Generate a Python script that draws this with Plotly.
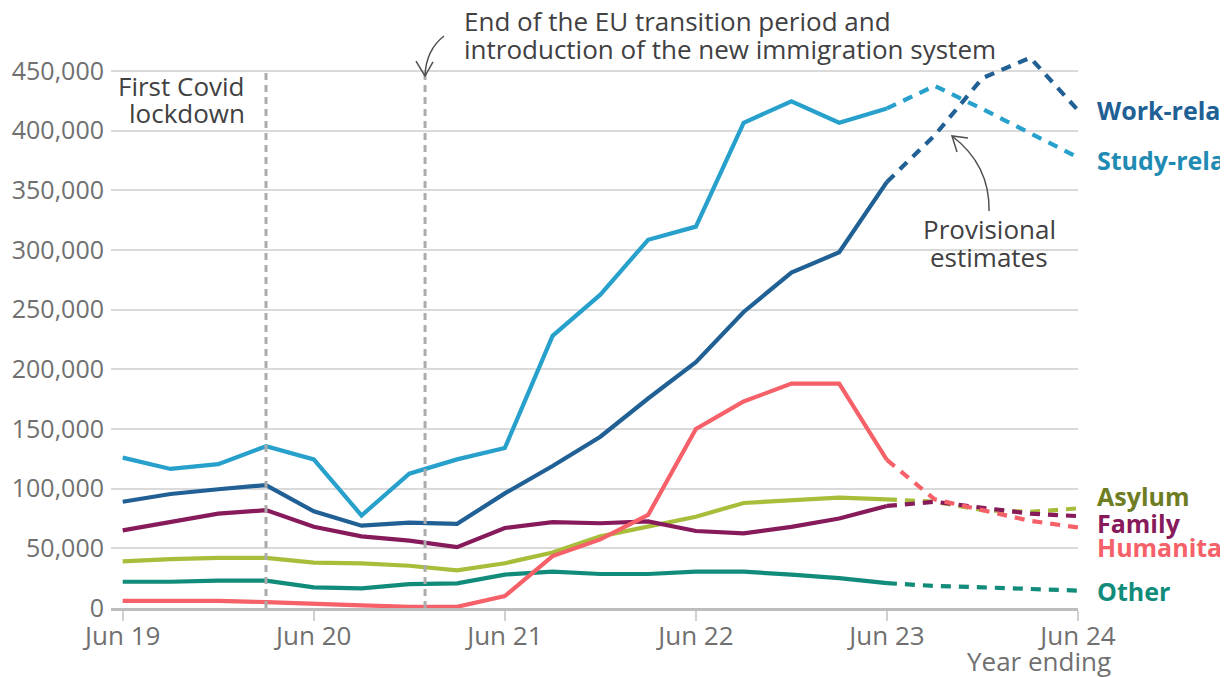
import plotly.graph_objects as go

quarters = ["Jun 19", "Sep 19", "Dec 19", "Mar 20", "Jun 20", "Sep 20", "Dec 20", "Mar 21",
            "Jun 21", "Sep 21", "Dec 21", "Mar 22", "Jun 22", "Sep 22", "Dec 22", "Mar 23",
            "Jun 23", "Sep 23", "Dec 23", "Mar 24", "Jun 24"]
tick_labels = ["Jun 19", "Jun 20", "Jun 21", "Jun 22", "Jun 23", "Jun 24"]

work = [89000, 95500, 99500, 103000, 81000, 69000, 71500, 70500, 96000, 119000, 143500,
        175500, 206000, 248000, 281000, 298000, 357000, 396000, 444000, 461000, 417000]
study = [126000, 116500, 120500, 135500, 124500, 77500, 112500, 124500, 134000, 228000, 262500,
         308500, 319500, 406500, 424500, 406500, 418500, 437500, 418000, 398000, 377500]
humanitarian = [6000, 6000, 6000, 5000, 4000, 2200, 1000, 1000, 10000, 43500, 57500,
                78000, 150000, 173000, 188000, 188000, 124000, 91000, 82000, 73000, 67500]
family = [65000, 72000, 79000, 82000, 68000, 60000, 56500, 51000, 67000, 72000, 71000,
          72500, 64500, 62500, 68000, 75000, 85500, 89000, 84000, 79000, 77000]
asylum = [39000, 41000, 42000, 42000, 38000, 37400, 35400, 31500, 37500, 46500, 60000,
          68000, 76500, 88000, 90500, 92500, 91000, 89000, 82000, 80500, 83500]
other = [22000, 22000, 23000, 23000, 17300, 16500, 20000, 20600, 28000, 30400, 28500,
         28500, 30400, 30400, 28000, 25000, 20800, 18500, 17300, 15600, 14600]

series_names = ["Other", "Asylum", "Family", "Humanitarian", "Study-related", "Work-related"]
series_values = [other, asylum, family, humanitarian, study, work]
line_colors = ["#118C7B", "#A8BD3A", "#871A5B", "#F66068", "#27A0CC", "#206095"]
label_colors = ["#118C7B", "#6E7D22", "#871A5B", "#F66068", "#1F8BB3", "#206095"]
label_y = [14000, 93500, 71000, 51000, 375000, 417000]

last_actual = quarters.index("Jun 23")
xs = list(range(len(quarters)))

# page has an 8px body margin
W, H = 1220, 669
L, R, T, B = 103, 150, 39, 69
XMIN, XMAX = -0.245, 20
YMIN, YMAX = 0, 470000

fig = go.Figure()
for name, vals, col in zip(series_names, series_values, line_colors):
    fig.add_trace(go.Scatter(x=xs[:last_actual + 1], y=vals[:last_actual + 1], mode="lines",
                             line=dict(color=col, width=4.2), name=name, hoverinfo="skip",
                             showlegend=False))
    fig.add_trace(go.Scatter(x=xs[last_actual:], y=vals[last_actual:], mode="lines",
                             line=dict(color=col, width=4.2, dash="10px,8px"),
                             name=name + " (provisional)", hoverinfo="skip", showlegend=False))

annotations = []
for name, col, ly in zip(series_names, label_colors, label_y):
    annotations.append(dict(x=xs[-1], y=ly, xref="x", yref="y", text="<b>" + name + "</b>",
                            showarrow=False, xanchor="left", yanchor="middle", xshift=17,
                            font=dict(family="Open Sans", size=25, color=col)))

# event reference lines
lockdown_x = quarters.index("Mar 20")
eu_x = quarters.index("Dec 20") + 0.33
shapes = []
for vx in [lockdown_x, eu_x]:
    shapes.append(dict(type="line", xref="x", yref="y", x0=vx, x1=vx, y0=0, y1=450000,
                       line=dict(color="#ABABAB", width=3, dash="7px,5px"), layer="above"))

# helper: screenshot pixel -> paper coords for decorations
PL, PT = L + 8, T + 8
pw, ph = W - L - R, H - T - B
PB = PT + ph
def PX(px):
    return (px - PL) / pw
def PY(py):
    return (PB - py) / ph
def P(px, py):
    return "%.4f,%.4f" % (PX(px), PY(py))

arrow_col = "#505050"
shapes.append(dict(type="path", xref="paper", yref="paper",
                   path="M" + P(444, 36) + " Q" + P(426, 50) + " " + P(425, 76),
                   line=dict(color=arrow_col, width=1.5)))
shapes.append(dict(type="path", xref="paper", yref="paper",
                   path="M" + P(416, 61) + " L" + P(425, 76) + " L" + P(433, 62),
                   line=dict(color=arrow_col, width=1.5)))
shapes.append(dict(type="path", xref="paper", yref="paper",
                   path="M" + P(989, 211) + " Q" + P(990, 165) + " " + P(952, 136),
                   line=dict(color=arrow_col, width=1.5)))
shapes.append(dict(type="path", xref="paper", yref="paper",
                   path="M" + P(968, 138) + " L" + P(952, 136) + " L" + P(957, 152),
                   line=dict(color=arrow_col, width=1.5)))

text_col = "#414042"
def text_at(txt, px, py, anchor, color=text_col, size=26):
    return dict(x=PX(px), y=PY(py), xref="paper", yref="paper", text=txt, showarrow=False,
                xanchor=anchor, yanchor="middle",
                font=dict(family="Open Sans", size=size, color=color))

annotations += [
    text_at("First Covid", 247, 86, "right"),
    text_at("lockdown", 247, 113, "right"),
    text_at("End of the EU transition period and", 462, 21, "left"),
    text_at("introduction of the new immigration system", 462, 49, "left"),
    text_at("Provisional", 989, 229, "center"),
    text_at("estimates", 989, 257, "center"),
    text_at("Year ending", 1113, 661, "right", color="#707070"),
]

fig.update_layout(
    width=W, height=H, margin=dict(l=L, r=R, t=T, b=B, autoexpand=False),
    plot_bgcolor="white", paper_bgcolor="white",
    font=dict(family="Open Sans", size=24, color="#707070"),
    shapes=shapes, annotations=annotations,
    xaxis=dict(range=[XMIN, XMAX], tickvals=[quarters.index(t) for t in tick_labels],
               ticktext=tick_labels, showgrid=False, zeroline=False, showline=True,
               linecolor="#BDBDBD", linewidth=3, ticks="outside", ticklen=10,
               tickcolor="#D0D0D0", tickwidth=1.5, tickfont=dict(size=26),
               ticklabelstandoff=-7, automargin=False, fixedrange=True),
    yaxis=dict(range=[YMIN, YMAX], tickvals=list(range(0, 450001, 50000)), tickformat=",",
               showgrid=True, gridcolor="#DADADA", gridwidth=1.5, zeroline=False,
               showline=False, ticks="", ticklabelstandoff=6, tickfont=dict(size=25),
               automargin=False, fixedrange=True),
)

fig.write_html("out.html")
